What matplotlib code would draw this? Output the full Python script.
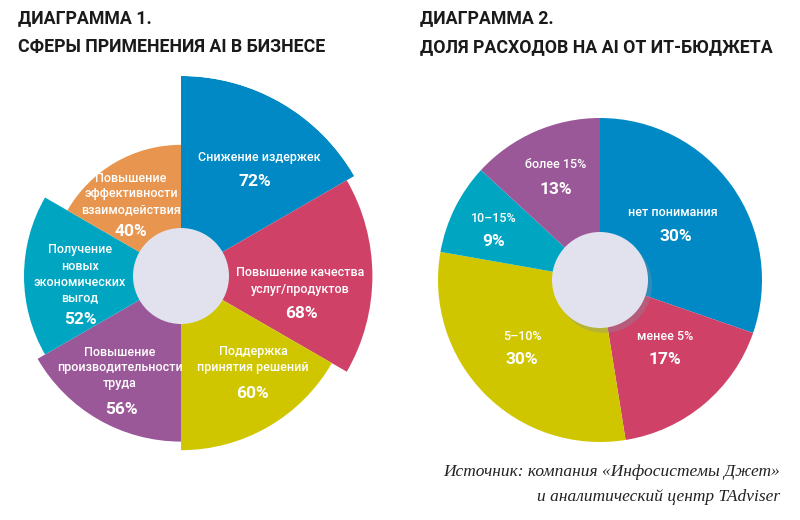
import numpy as np
import matplotlib
matplotlib.use('Agg')
import matplotlib.pyplot as plt
from matplotlib.patches import Circle

# Diagram 1: AI application areas (clockwise from top)
areas = ['Снижение издержек', 'Повышение качества\nуслуг/продуктов',
         'Поддержка\nпринятия решений', 'Повышение\nпроизводительности\nтруда',
         'Получение\nновых\nэкономических\nвыгод', 'Повышение\nэффективности\nвзаимодействия']
area_values = [72, 68, 60, 56, 52, 40]
area_colors = ['#0089c4', '#cf4167', '#cfc600', '#9b5899', '#00a6c1', '#e8954f']

# Diagram 2: AI share of IT budget (clockwise from top)
shares = ['нет понимания', 'менее 5%', '5–10%', '10–15%', 'более 15%']
share_values = [30, 17, 30, 9, 13]
share_colors = ['#0089c4', '#cf4167', '#cfc600', '#00a6c1', '#9b5899']

W, H = 800, 520
fig = plt.figure(figsize=(8, 5.2), dpi=100)
fig.patch.set_facecolor('white')

def fx(x):
    return x / W

def fy(y):
    return 1 - y / H

hole_color = '#e1e2ee'

# ---- left: polar "rose" chart ----
cx, cy, R = 181, 276, 200
ax1 = fig.add_axes([fx(cx - R), fy(cy + R), 2 * R / W, 2 * R / H], projection='polar')
ax1.set_theta_zero_location('N')
ax1.set_theta_direction(-1)
n = len(area_values)
width = 2 * np.pi / n
theta = np.arange(n) * width + width / 2
ax1.bar(theta, area_values, width=width, bottom=0, color=area_colors, linewidth=0)
ax1.set_rorigin(-21)
ax1.set_ylim(0, 72)
ax1.axis('off')
ax1.add_patch(Circle((0.5, 0.5), 48 / (2 * R), transform=ax1.transAxes,
                     color=hole_color, zorder=5, clip_on=False, linewidth=0))

# ---- right: pie chart ----
pcx, pcy, PR = 600, 280, 162
ax2 = fig.add_axes([fx(pcx - PR), fy(pcy + PR), 2 * PR / W, 2 * PR / H])
ax2.pie(share_values, colors=share_colors, startangle=90, counterclock=False,
        wedgeprops=dict(linewidth=0))
ax2.set_xlim(-1, 1)
ax2.set_ylim(-1, 1)
ax2.set_aspect('equal')
ax2.add_patch(Circle((0.025, -0.03), 48 / PR, color='#8890a0', alpha=0.35, zorder=4, linewidth=0))
ax2.add_patch(Circle((0, 0), 48 / PR, color=hole_color, zorder=5, linewidth=0))

# ---- labels ----
lab_font = dict(family='Roboto', color='white', fontsize=9, fontweight='medium',
                ha='center', va='center', linespacing=1.3)
pct_font = dict(family='Roboto', color='white', fontsize=12.5, fontweight='bold',
                ha='center', va='center')

area_label_pos = [(259, 157), (300, 281), (253, 360), (120, 368), (80, 274), (131, 194)]
area_pct_pos = [(255, 181), (301, 313), (253, 393), (121, 409), (80, 320), (131, 232)]
for name, v, (lx, ly), (px, py) in zip(areas, area_values, area_label_pos, area_pct_pos):
    fig.text(fx(lx), fy(ly), name, **lab_font)
    fig.text(fx(px), fy(py), f'{v}%', **pct_font)

share_label_pos = [(673, 213), (665, 337), (522, 337), (494, 218), (556, 165)]
share_pct_pos = [(676, 237), (665, 360), (522, 360), (494, 242), (556, 189)]
for name, v, (lx, ly), (px, py) in zip(shares, share_values, share_label_pos, share_pct_pos):
    fig.text(fx(lx), fy(ly), name, **lab_font)
    fig.text(fx(px), fy(py), f'{v}%', **pct_font)

# ---- titles ----
title_font = dict(family='Roboto', fontsize=12.8, fontweight='bold', color='#1a1a1a',
                  ha='left', va='center')
fig.text(fx(18), fy(18), 'ДИАГРАММА 1.', **title_font)
fig.text(fx(18), fy(47), 'СФЕРЫ ПРИМЕНЕНИЯ AI В БИЗНЕСЕ', **title_font)
fig.text(fx(420), fy(18), 'ДИАГРАММА 2.', **title_font)
fig.text(fx(420), fy(47), 'ДОЛЯ РАСХОДОВ НА AI ОТ ИТ-БЮДЖЕТА', **title_font)

# ---- source ----
src_font = dict(family='Liberation Serif', style='italic', fontsize=12.5, color='#222222',
                ha='right', va='center')
fig.text(fx(780), fy(472), 'Источник: компания «Инфосистемы Джет»', **src_font)
fig.text(fx(780), fy(497), 'и аналитический центр TAdviser', **src_font)

fig.savefig('out.png', dpi=100)
